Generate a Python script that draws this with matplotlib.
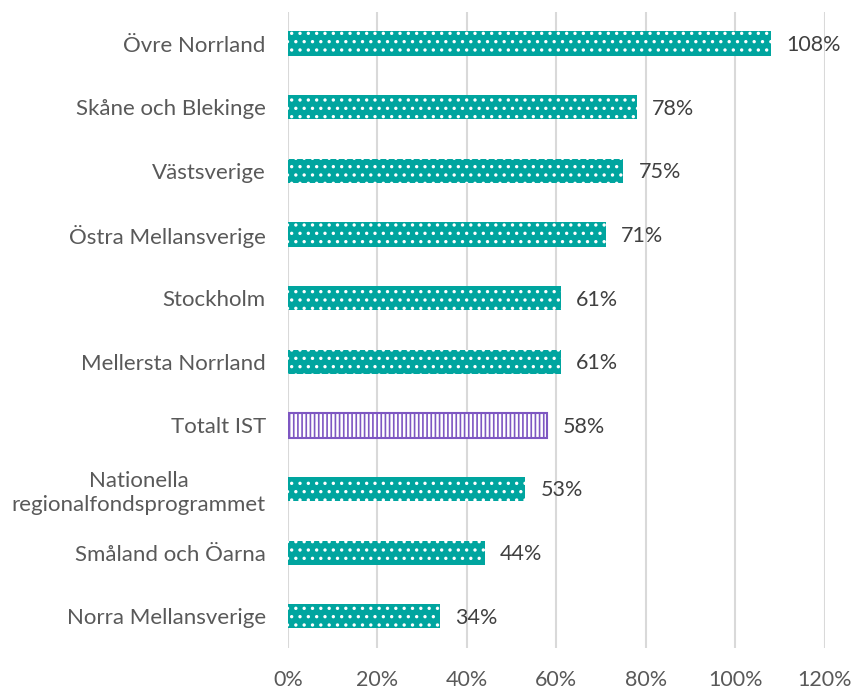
import numpy as np
import matplotlib.pyplot as plt
from matplotlib.ticker import PercentFormatter

# Data (top to bottom as in the chart)
regioner = ["Övre Norrland", "Skåne och Blekinge", "Västsverige",
            "Östra Mellansverige", "Stockholm", "Mellersta Norrland",
            "Totalt IST", "Nationella\nregionalfondsprogrammet",
            "Småland och Öarna", "Norra Mellansverige"]
andel = [1.08, 0.78, 0.75, 0.71, 0.61, 0.61, 0.58, 0.53, 0.44, 0.34]
etiketter = ["108%", "78%", "75%", "71%", "61%", "61%", "58%", "53%", "44%", "34%"]

teal = "#00A59F"
lila = "#7E57C2"

plt.rcParams['font.family'] = ['Lato', 'DejaVu Sans']
plt.rcParams['hatch.linewidth'] = 1.2

fig = plt.figure(figsize=(8.52, 6.91), dpi=100)
ax = fig.add_axes([0.338, 0.062, 0.63, 0.921])

y = np.arange(len(regioner))[::-1]
for yi, namn, v in zip(y, regioner, andel):
    if namn == "Totalt IST":
        ax.barh(yi, v, height=0.38, color="white", edgecolor=lila,
                linewidth=1.5, hatch="||||", zorder=3)
    else:
        ax.barh(yi, v, height=0.38, color=teal, edgecolor="white",
                linewidth=0, hatch="..", zorder=3)

for yi, v, txt in zip(y, andel, etiketter):
    ax.annotate(txt, (v, yi), xytext=(11, -1), textcoords="offset points",
                va="center", ha="left", fontsize=15.5, color="#404040")

ax.set_xlim(0, 1.2)
ax.set_ylim(-0.5, len(regioner) - 0.5)
ax.set_xticks(np.arange(0, 1.21, 0.2))
ax.xaxis.set_major_formatter(PercentFormatter(1.0, decimals=0))
ax.set_yticks(y)
ax.set_yticklabels(regioner, multialignment="center", linespacing=1.25)
ax.tick_params(axis="y", length=0, pad=16, labelsize=16, labelcolor="#595959")
ax.tick_params(axis="x", length=0, pad=16, labelsize=15.5, labelcolor="#595959")
ax.grid(axis="x", color="#D9D9D9", linewidth=1.5, zorder=0)
for s in ax.spines.values():
    s.set_visible(False)

fig.savefig("out.png", dpi=100)
